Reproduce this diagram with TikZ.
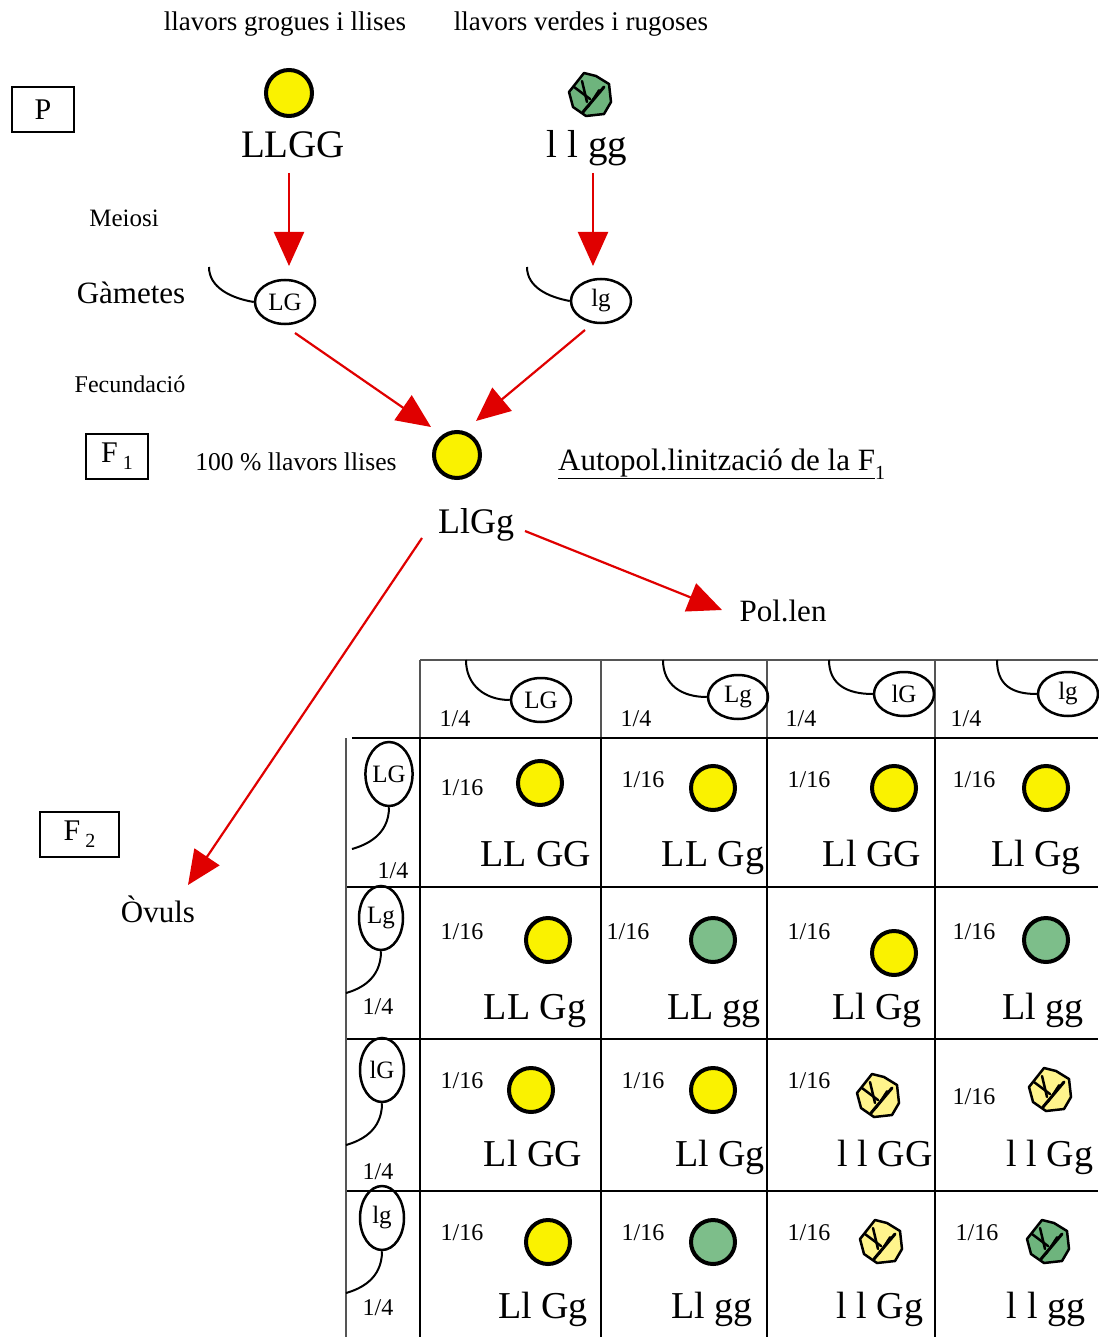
\documentclass[tikz,border=0pt]{standalone}
\usepackage{fontspec}
\setmainfont{Liberation Serif}
\usetikzlibrary{arrows.meta,shapes.geometric}
\definecolor{arrred}{RGB}{224,0,0}
\definecolor{seedyellow}{RGB}{250,242,0}
\definecolor{seedgreen}{RGB}{125,190,138}
\definecolor{wrkgreen}{RGB}{110,180,125}
\definecolor{wrkyellow}{RGB}{255,244,140}
\definecolor{gridgrey}{RGB}{85,85,85}
\newcommand\fsz[1]{\fontsize{#1}{#1}\selectfont}
\tikzset{
  wrinkle/.pic={
    \draw[line width=2.5pt, fill=#1, line join=round]
      (-7,-22) -- (5,-19) -- (18,-11) -- (20,7) -- (13,19) -- (-5,21) -- (-18,12) -- (-22,-3) -- cycle;
    \draw[line width=2.5pt, line cap=round] (-17,-8) -- (-1,4);
    \draw[line width=2.5pt, line cap=round] (-9,-14) -- (-4,7);
    \draw[line width=3pt, line cap=round] (13,-8) -- (-8,17);
    \draw[line width=2pt, line cap=round] (8,-5) -- (-3,12);
  }
}
\begin{document}
\begin{tikzpicture}[x=1pt,y=-1pt,
  lbl/.style={inner sep=0pt, anchor=base},
  tagbox/.style={draw, line width=2pt, inner sep=0pt, minimum height=45pt, font=\fsz{30}},
  redarr/.style={draw=arrred, line width=2.2pt, -{Triangle[length=34pt,width=30pt]}},
  gam/.style={ellipse, draw, line width=2.5pt, inner sep=0pt, minimum width=60pt, minimum height=44pt, font=\fsz{25}},
  gamv/.style={ellipse, draw, line width=2.5pt, inner sep=0pt, minimum width=44pt, minimum height=64pt, font=\fsz{25}},
  gtail/.style={line width=2pt},
  seedy/.style={circle, draw, line width=4pt, inner sep=0pt, minimum size=44pt, fill=seedyellow},
  seedg/.style={seedy, fill=seedgreen},
  prob/.style={lbl, font=\fsz{24}},
  geno/.style={lbl, font=\fsz{38}},
  gridk/.style={line width=2.5pt},
  gridg/.style={line width=2.5pt, draw=gridgrey},
]
\useasboundingbox (0,0) rectangle (1098,1337);
\fill[white] (0,0) rectangle (1098,1337);

% ---------- parental generation ----------
\node[lbl, font=\fsz{27}] (hY) at (285,31) {llavors grogues i llises};
\node[lbl, font=\fsz{27}] (hG) at (581,31) {llavors verdes i rugoses};
\node[tagbox, minimum width=62pt] (P) at (43,110) {P};
\node[seedy, minimum size=46pt] (pY) at (289,93) {};
\pic at (591,95) {wrinkle=wrkgreen};
\node[lbl, font=\fsz{39}] (LLGG) at (293,158) {LLGG};
\node[lbl, font=\fsz{39}] (llgg) at (587,158) {l l gg};

\node[lbl, font=\fsz{25}] (mei) at (124,227) {Meiosi};
\node[lbl, font=\fsz{31}] (gam) at (131,303) {Gàmetes};
\node[lbl, font=\fsz{24}] (fec) at (130,392) {Fecundació};

% gametes
\node[gam] (gLG) at (285,302) {LG};
\node[gam] (glg) at (601,301) {lg};
\coordinate (gLGt) at (209,267);
\coordinate (glgt) at (527,267);
\draw[gtail] (gLGt) .. controls (209,287) and (230,298) .. (gLG.west);
\draw[gtail] (glgt) .. controls (527,287) and (548,297) .. (glg.west);

% arrows of meiosis and fertilisation
\coordinate (a1s) at (289,173); \coordinate (a1e) at (289,266);
\coordinate (a2s) at (593,173); \coordinate (a2e) at (593,266);
\coordinate (a3s) at (295,333); \coordinate (a3e) at (431,427);
\coordinate (a4s) at (585,330); \coordinate (a4e) at (476,421);
\draw[redarr] (a1s) -- (a1e);
\draw[redarr] (a2s) -- (a2e);
\draw[redarr] (a3s) -- (a3e);
\draw[redarr] (a4s) -- (a4e);

% ---------- F1 ----------
\node[tagbox, minimum width=62pt] (F1) at (117,456) {F\,\raisebox{-7pt}{\fsz{20}1}};
\node[lbl, font=\fsz{25.6}] (pct) at (296,470) {100 \% llavors llises};
\node[seedy, minimum size=46pt] (f1seed) at (457,455) {};
\node[lbl, font=\fsz{31}, anchor=base west] (auto) at (558,470)
  {\underline{Autopol.linització de la F}\raisebox{-9pt}{\fsz{20}1}};
\node[lbl, font=\fsz{36}] (LlGg) at (476,533) {LlGg};
\node[lbl, font=\fsz{31}] (pol) at (783,621) {Pol.len};
\node[tagbox, minimum width=79pt] (F2) at (79.5,834.5) {F\,\raisebox{-7pt}{\fsz{20}2}};
\node[lbl, font=\fsz{31}] (ovu) at (158,922) {Òvuls};

\coordinate (a5s) at (525,531); \coordinate (a5e) at (722,610);
\coordinate (a6s) at (422,538); \coordinate (a6e) at (188,885);
\draw[redarr] (a5s) -- (a5e);
\draw[redarr] (a6s) -- (a6e);

% ---------- Punnett square ----------
\draw[gridg] (420,660) -- (1098,660);
\foreach \x in {420,601,767,935} \draw[gridg] (\x,660) -- (\x,738);
\draw[gridk] (352,738) -- (1098,738);
\foreach \y in {887,1039,1191} \draw[gridk] (346,\y) -- (1098,\y);
\draw[gridg] (346,738) -- (346,1337);
\foreach \x in {420,601,767,935} \draw[gridk] (\x,738) -- (\x,1337);

% pollen gametes (columns)
\node[gam] (h1) at (541,700) {LG};
\node[gam] (h2) at (738,697) {Lg};
\node[gam] (h3) at (904,694) {lG};
\node[gam] (h4) at (1068,694) {lg};
\coordinate (h1t) at (466,660);
\coordinate (h2t) at (663,660);
\coordinate (h3t) at (829,660);
\coordinate (h4t) at (997,660);
\foreach \i in {1,2,3,4}
  \draw[gtail] (h\i t) .. controls +(0,25) and +(-25,0) .. (h\i.west);
\node[prob] (p1) at (455,726) {1/4};
\node[prob] (p2) at (636,726) {1/4};
\node[prob] (p3) at (801,726) {1/4};
\node[prob] (p4) at (966,726) {1/4};

% egg gametes (rows)
\node[gamv] (v1) at (389,774) {LG};
\node[gamv] (v2) at (381,918) {Lg};
\node[gamv] (v3) at (382,1070) {lG};
\node[gamv] (v4) at (382,1218) {lg};
\coordinate (v1t) at (352,849);
\coordinate (v2t) at (346,993);
\coordinate (v3t) at (346,1145);
\coordinate (v4t) at (346,1293);
\foreach \i in {1,2,3,4}
  \draw[gtail] (v\i.south) .. controls +(0,28) and +(14,-4) .. (v\i t);
\node[prob] (q1) at (393,878) {1/4};
\node[prob] (q2) at (378,1014) {1/4};
\node[prob] (q3) at (378,1179) {1/4};
\node[prob] (q4) at (378,1315) {1/4};

% row 1
\node[prob] (r11) at (462,795) {1/16};
\node[seedy] (s11) at (540,783) {};
\node[geno] (g11) at (536,866) {LL GG};
\node[prob] (r12) at (643,787) {1/16};
\node[seedy] (s12) at (713,788) {};
\node[geno] (g12) at (713,866) {LL Gg};
\node[prob] (r13) at (809,787) {1/16};
\node[seedy] (s13) at (894,788) {};
\node[geno] (g13) at (872,866) {Ll GG};
\node[prob] (r14) at (974,787) {1/16};
\node[seedy] (s14) at (1046,788) {};
\node[geno] (g14) at (1036,866) {Ll Gg};

% row 2
\node[prob] (r21) at (462,939) {1/16};
\node[seedy] (s21) at (548,940) {};
\node[geno] (g21) at (535,1019) {LL Gg};
\node[prob] (r22) at (628,939) {1/16};
\node[seedg] (s22) at (713,940) {};
\node[geno] (g22) at (714,1019) {LL gg};
\node[prob] (r23) at (809,939) {1/16};
\node[seedy] (s23) at (894,953) {};
\node[geno] (g23) at (877,1019) {Ll Gg};
\node[prob] (r24) at (974,939) {1/16};
\node[seedg] (s24) at (1046,940) {};
\node[geno] (g24) at (1043,1019) {Ll gg};

% row 3
\node[prob] (r31) at (462,1088) {1/16};
\node[seedy] (s31) at (531,1090) {};
\node[geno] (g31) at (533,1166) {Ll GG};
\node[prob] (r32) at (643,1088) {1/16};
\node[seedy] (s32) at (713,1090) {};
\node[geno] (g32) at (720,1166) {Ll Gg};
\node[prob] (r33) at (809,1088) {1/16};
\pic at (879,1096) {wrinkle=wrkyellow};
\node[geno] (g33) at (885,1166) {l l GG};
\node[prob] (r34) at (974,1104) {1/16};
\pic at (1051,1090) {wrinkle=wrkyellow};
\node[geno] (g34) at (1050,1166) {l l Gg};

% row 4
\node[prob] (r41) at (462,1240) {1/16};
\node[seedy] (s41) at (548,1242) {};
\node[geno] (g41) at (543,1318) {Ll Gg};
\node[prob] (r42) at (643,1240) {1/16};
\node[seedg] (s42) at (713,1242) {};
\node[geno] (g42) at (712,1318) {Ll gg};
\node[prob] (r43) at (809,1240) {1/16};
\pic at (882,1242) {wrinkle=wrkyellow};
\node[geno] (g43) at (880,1318) {l l Gg};
\node[prob] (r44) at (977,1240) {1/16};
\pic at (1049,1242) {wrinkle=wrkgreen};
\node[geno] (g44) at (1046,1318) {l l gg};
\end{tikzpicture}
\end{document}
